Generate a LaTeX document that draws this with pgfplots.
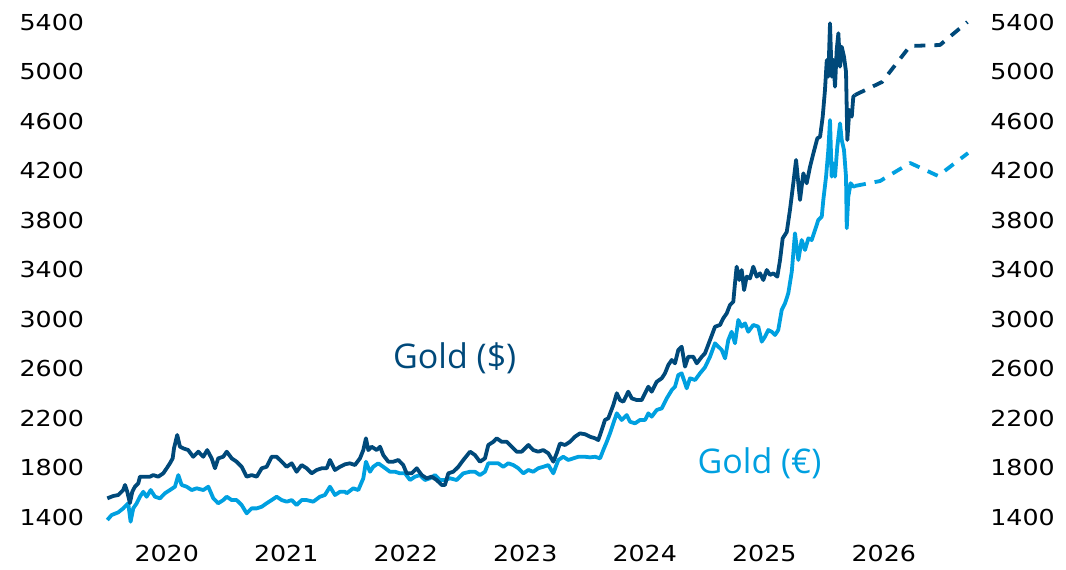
\documentclass[border=0pt]{standalone}
\usepackage{pgfplots}
\pgfplotsset{compat=1.18}
\usepackage{fontspec}
\setmainfont{DejaVu Sans}
\newfontfamily\tickfont[FakeStretch=1.15]{DejaVu Sans}
\newfontfamily\labfont{Open Sans}
\definecolor{dark}{RGB}{0,73,122}
\definecolor{light}{RGB}{0,160,224}

\begin{document}
\begin{tikzpicture}
\useasboundingbox (0,0) rectangle (533pt,284.5pt);
\pgfplotsset{
 common/.style={
  scale only axis, width=442.2pt, height=256.8pt,
  xmin=2019.9, xmax=2027.3, ymin=1300, ymax=5450,
  axis line style={draw=none}, major tick length=0pt,
  ytick={1400,1800,2200,2600,3000,3400,3800,4200,4600,5000,5400},
  yticklabels={1400,1800,2200,2600,3000,3400,3800,4200,4600,5000,5400},
  ticklabel style={font=\tickfont\fontsize{11}{13}\selectfont, text=black},
  clip=false,
 }}
\begin{axis}[common, at={(47.5pt,19.8pt)}, anchor=south west,
  xtick={2020.5,2021.5,2022.5,2023.5,2024.5,2025.5,2026.5},
  xticklabels={2020,2021,2022,2023,2024,2025,2026},
  xticklabel style={anchor=north, inner sep=0pt, yshift=-7.8pt},
  yticklabel style={anchor=east, inner sep=0pt, xshift=-5.3pt},
  line join=round]
% Gold in EUR
\addplot[light, line width=1.9pt] coordinates {
(2020.003,1376)(2020.039,1416)(2020.095,1438)(2020.136,1470)(2020.178,1511)(2020.198,1362)
(2020.220,1470)(2020.249,1511)(2020.276,1564)(2020.304,1604)(2020.332,1564)(2020.366,1618)
(2020.402,1564)(2020.444,1551)(2020.485,1592)(2020.527,1618)(2020.569,1645)(2020.597,1739)
(2020.625,1659)(2020.667,1645)(2020.709,1618)(2020.751,1632)(2020.806,1618)(2020.848,1645)
(2020.890,1551)(2020.931,1511)(2020.973,1537)(2021.002,1564)(2021.044,1537)(2021.085,1537)
(2021.127,1497)(2021.169,1430)(2021.211,1470)(2021.253,1470)(2021.295,1483)(2021.336,1511)
(2021.378,1537)(2021.420,1564)(2021.462,1537)(2021.504,1524)(2021.546,1537)(2021.587,1497)
(2021.629,1537)(2021.671,1537)(2021.726,1524)(2021.782,1564)(2021.824,1578)(2021.866,1645)
(2021.908,1578)(2021.950,1604)(2021.992,1604)(2022.006,1592)(2022.061,1632)(2022.103,1618)
(2022.145,1713)(2022.167,1847)(2022.201,1766)(2022.228,1806)(2022.270,1834)(2022.312,1806)
(2022.368,1766)(2022.410,1766)(2022.452,1753)(2022.494,1753)(2022.536,1699)(2022.577,1726)
(2022.619,1739)(2022.661,1699)(2022.703,1713)(2022.745,1739)(2022.787,1699)(2022.828,1699)
(2022.870,1713)(2022.926,1699)(2022.982,1753)(2023.038,1766)(2023.079,1766)(2023.121,1739)
(2023.163,1766)(2023.191,1834)(2023.233,1834)(2023.274,1834)(2023.316,1806)(2023.358,1834)
(2023.400,1820)(2023.442,1794)(2023.484,1753)(2023.526,1780)(2023.567,1766)(2023.609,1794)
(2023.651,1806)(2023.693,1820)(2023.735,1753)(2023.777,1861)(2023.818,1887)(2023.860,1861)
(2023.902,1874)(2023.944,1887)(2024.000,1887)(2024.042,1882)(2024.084,1887)(2024.126,1874)
(2024.153,1941)(2024.182,2008)(2024.209,2076)(2024.237,2157)(2024.266,2238)(2024.307,2184)
(2024.349,2224)(2024.377,2170)(2024.418,2157)(2024.460,2184)(2024.502,2184)(2024.530,2238)
(2024.558,2211)(2024.600,2265)(2024.642,2278)(2024.684,2359)(2024.726,2426)(2024.753,2453)
(2024.781,2548)(2024.809,2561)(2024.851,2440)(2024.879,2521)(2024.921,2507)(2024.962,2561)
(2025.004,2610)(2025.046,2695)(2025.088,2804)(2025.116,2776)(2025.144,2750)(2025.172,2682)
(2025.199,2830)(2025.227,2897)(2025.255,2804)(2025.283,2992)(2025.311,2938)(2025.339,2965)
(2025.366,2897)(2025.408,2952)(2025.450,2938)(2025.479,2817)(2025.506,2857)(2025.534,2911)
(2025.562,2897)(2025.590,2871)(2025.617,2911)(2025.646,3073)(2025.674,3127)(2025.701,3208)
(2025.730,3382)(2025.757,3693)(2025.785,3477)(2025.813,3638)(2025.841,3558)(2025.869,3652)
(2025.897,3638)(2025.925,3719)(2025.952,3800)(2025.981,3827)(2025.994,3962)(2026.017,4150)
(2026.036,4366)(2026.050,4608)(2026.064,4150)(2026.078,4258)(2026.092,4150)(2026.111,4392)
(2026.134,4581)(2026.148,4447)(2026.167,4366)(2026.184,4150)(2026.190,3733)(2026.203,3988)
(2026.223,4097)(2026.245,4069)(2026.259,4075)};
\addplot[light, line width=1.9pt, dash pattern=on 5.5pt off 4.5pt] coordinates {
(2026.259,4075)(2026.469,4115)(2026.720,4261)(2026.954,4156)(2027.205,4341)};
% Gold in USD
\addplot[dark, line width=1.9pt] coordinates {
(2020.003,1551)(2020.053,1570)(2020.095,1578)(2020.136,1618)(2020.151,1659)(2020.170,1604)
(2020.192,1513)(2020.212,1604)(2020.234,1645)(2020.262,1672)(2020.276,1726)(2020.318,1726)
(2020.360,1726)(2020.387,1739)(2020.429,1726)(2020.471,1753)(2020.500,1794)(2020.527,1834)
(2020.550,1874)(2020.561,1955)(2020.588,2063)(2020.611,1968)(2020.638,1955)(2020.680,1941)
(2020.722,1887)(2020.764,1928)(2020.806,1887)(2020.839,1941)(2020.876,1874)(2020.904,1794)
(2020.931,1874)(2020.973,1887)(2021.002,1928)(2021.044,1874)(2021.085,1847)(2021.127,1806)
(2021.169,1726)(2021.211,1739)(2021.253,1726)(2021.295,1794)(2021.336,1806)(2021.378,1887)
(2021.420,1887)(2021.462,1847)(2021.504,1806)(2021.546,1834)(2021.587,1766)(2021.629,1820)
(2021.671,1794)(2021.713,1753)(2021.755,1780)(2021.797,1794)(2021.839,1794)(2021.866,1861)
(2021.908,1780)(2021.950,1806)(2021.992,1826)(2022.033,1834)(2022.075,1820)(2022.117,1874)
(2022.145,1941)(2022.167,2036)(2022.187,1941)(2022.215,1968)(2022.257,1941)(2022.285,1968)
(2022.312,1901)(2022.354,1847)(2022.396,1847)(2022.438,1861)(2022.479,1820)(2022.508,1753)
(2022.550,1753)(2022.592,1794)(2022.634,1739)(2022.675,1713)(2022.717,1726)(2022.759,1699)
(2022.801,1659)(2022.828,1659)(2022.856,1753)(2022.898,1766)(2022.940,1806)(2022.982,1861)
(2023.038,1928)(2023.079,1901)(2023.121,1847)(2023.163,1874)(2023.191,1982)(2023.233,2008)
(2023.261,2036)(2023.303,2008)(2023.345,2008)(2023.387,1968)(2023.428,1928)(2023.470,1928)
(2023.526,1982)(2023.567,1941)(2023.609,1928)(2023.651,1941)(2023.693,1915)(2023.735,1847)
(2023.763,1915)(2023.791,1995)(2023.833,1982)(2023.874,2008)(2023.916,2049)(2023.958,2076)
(2024.000,2069)(2024.042,2049)(2024.084,2036)(2024.111,2022)(2024.140,2103)(2024.167,2184)
(2024.195,2198)(2024.237,2305)(2024.266,2400)(2024.293,2345)(2024.321,2332)(2024.362,2413)
(2024.391,2359)(2024.433,2345)(2024.474,2345)(2024.502,2400)(2024.530,2453)(2024.558,2413)
(2024.600,2493)(2024.642,2521)(2024.669,2561)(2024.697,2628)(2024.726,2669)(2024.753,2642)
(2024.781,2750)(2024.809,2776)(2024.837,2615)(2024.864,2695)(2024.906,2695)(2024.935,2642)
(2024.977,2695)(2025.004,2723)(2025.046,2830)(2025.088,2938)(2025.130,2952)(2025.157,3006)
(2025.186,3046)(2025.213,3113)(2025.241,3140)(2025.255,3289)(2025.269,3423)(2025.291,3315)
(2025.311,3396)(2025.331,3234)(2025.353,3342)(2025.381,3329)(2025.408,3423)(2025.437,3342)
(2025.464,3369)(2025.492,3315)(2025.521,3396)(2025.548,3356)(2025.576,3369)(2025.609,3342)
(2025.632,3477)(2025.654,3652)(2025.688,3703)(2025.715,3881)(2025.743,4097)(2025.766,4285)
(2025.785,4097)(2025.799,3962)(2025.827,4177)(2025.855,4097)(2025.883,4231)(2025.911,4339)
(2025.944,4460)(2025.967,4473)(2025.989,4635)(2026.008,4851)(2026.023,5093)(2026.036,4958)
(2026.050,5390)(2026.064,4958)(2026.078,5093)(2026.092,4877)(2026.106,5174)(2026.120,5309)
(2026.134,5039)(2026.148,5200)(2026.167,5120)(2026.184,4998)(2026.195,4447)(2026.212,4689)
(2026.232,4635)(2026.245,4796)(2026.259,4810)};
\addplot[dark, line width=1.9pt, dash pattern=on 5.5pt off 4.5pt] coordinates {
(2026.259,4810)(2026.485,4915)(2026.720,5206)(2026.970,5214)(2027.200,5400)};
\node[text=dark, font=\labfont\fontsize{17}{20}\selectfont] at (axis cs:2022.91,2685) {Gold (\$)};
\node[text=light, font=\labfont\fontsize{17}{20}\selectfont] at (axis cs:2025.46,1836) {Gold (€)};
\end{axis}
\begin{axis}[common, at={(47.5pt,19.8pt)}, anchor=south west,
  xtick=\empty, yticklabel pos=right,
  yticklabel style={anchor=west, inner sep=0pt, xshift=5.3pt}]
\end{axis}
\end{tikzpicture}
\end{document}
